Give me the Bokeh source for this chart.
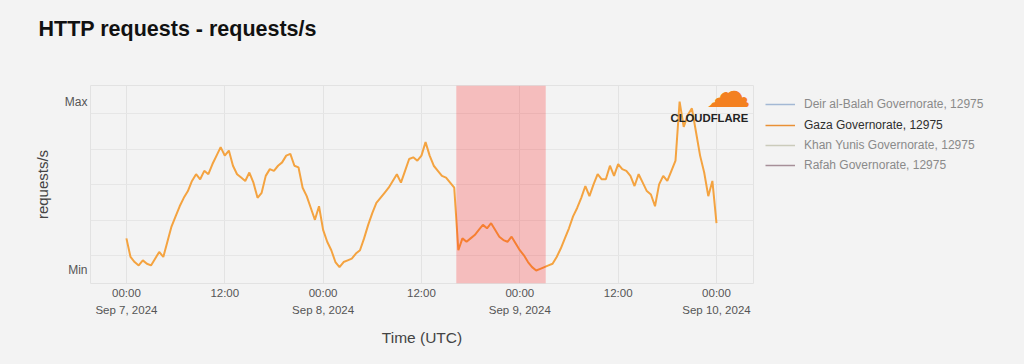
import pandas as pd
from bokeh.plotting import figure
from bokeh.layouts import row
from bokeh.models import Range1d, FixedTicker, BoxAnnotation, Legend, LegendItem, Label, Title
from bokeh.embed import file_html
from bokeh.resources import INLINE

# ---------------- data (normalised requests/s, Min = 0, Max = 1), 30-minute steps ----------------
series_start = "2024-09-07 00:00"
# Sep 7 00:00 - 23:30
gaza_day1 = [0.19, 0.08, 0.05, 0.03, 0.06, 0.04, 0.03, 0.07, 0.11, 0.08,
             0.17, 0.26, 0.32, 0.38, 0.43, 0.47, 0.53, 0.57, 0.54, 0.59,
             0.57, 0.63, 0.68, 0.73, 0.68, 0.71, 0.62, 0.57, 0.55, 0.53,
             0.58, 0.52, 0.43, 0.46, 0.56, 0.60, 0.59, 0.62, 0.64, 0.68,
             0.69, 0.62, 0.61, 0.49, 0.44, 0.37, 0.30, 0.38]
# Sep 8 00:00 - 23:30
gaza_day2 = [0.24, 0.17, 0.12, 0.05, 0.02, 0.05, 0.06, 0.07, 0.10, 0.12,
             0.19, 0.27, 0.34, 0.40, 0.43, 0.46, 0.49, 0.53, 0.57, 0.52,
             0.59, 0.66, 0.67, 0.65, 0.68, 0.76, 0.68, 0.62, 0.59, 0.56,
             0.55, 0.52, 0.49, 0.12, 0.19, 0.17, 0.19, 0.21, 0.24, 0.27,
             0.25, 0.28, 0.24, 0.20, 0.18, 0.17, 0.20, 0.16]
# Sep 9 00:00 - Sep 10 00:00
gaza_day3 = [0.12, 0.09, 0.05, 0.02, 0.00, 0.01, 0.02, 0.03, 0.04, 0.08,
             0.13, 0.19, 0.25, 0.32, 0.37, 0.43, 0.50, 0.44, 0.51, 0.57,
             0.54, 0.54, 0.62, 0.56, 0.63, 0.60, 0.59, 0.56, 0.50, 0.57,
             0.52, 0.47, 0.45, 0.38, 0.51, 0.56, 0.53, 0.59, 0.65, 1.00,
             0.85, 0.92, 0.96, 0.82, 0.68, 0.58, 0.44, 0.53, 0.28]
gaza_values = gaza_day1 + gaza_day2 + gaza_day3
gaza_times = pd.date_range(series_start, periods=len(gaza_values), freq="30min")

outage_start = "2024-09-08 16:15"
outage_end = "2024-09-09 03:10"

series_names = ["Deir al-Balah Governorate, 12975", "Gaza Governorate, 12975",
                "Khan Yunis Governorate, 12975", "Rafah Governorate, 12975"]
series_colors = ["#a3b8d4", "#e99035", "#cbcbbb", "#a68f98"]

x_tick_times = ["2024-09-07 00:00", "2024-09-07 12:00", "2024-09-08 00:00", "2024-09-08 12:00",
                "2024-09-09 00:00", "2024-09-09 12:00", "2024-09-10 00:00"]
x_tick_labels = ["00:00\nSep 7, 2024", "12:00", "00:00\nSep 8, 2024", "12:00",
                 "00:00\nSep 9, 2024", "12:00", "00:00\nSep 10, 2024"]
y_ticks = [0, 1]
y_tick_labels = ["Min", "Max"]
y_grid_values = [0.089, 0.296, 0.509, 0.716, 0.929]

# ---------------- styling ----------------
BG = "#f3f3f3"
FONT = "Liberation Sans"
LINE_COLOR = "#f4a340"
NAN = float("nan")

def ms(t):
    return pd.Timestamp(t).value // 10**6

p = figure(width=756, height=364, x_axis_type="datetime",
           x_range=Range1d(pd.Timestamp("2024-09-06 19:37"), pd.Timestamp("2024-09-10 04:31")),
           y_range=Range1d(-0.077, 1.095),
           output_backend="svg", toolbar_location=None,
           min_border_left=90, min_border_right=3, min_border_top=85, min_border_bottom=81,
           background_fill_color=BG, border_fill_color=BG,
           outline_line_color="#e2e2e2")

# spacer title (closest to frame) then the real title above it
p.add_layout(Title(text=" ", text_font_size="10px", standoff=27), "above")
p.add_layout(Title(text="HTTP requests - requests/s", text_font=FONT, text_font_size="21.5px",
                   text_font_style="bold", text_color="#111111", align="left", offset=-52,
                   standoff=10), "above")

# axes
tick_ms = [ms(t) for t in x_tick_times]
p.xaxis.ticker = FixedTicker(ticks=tick_ms)
p.xaxis.major_label_overrides = {t: lab for t, lab in zip(tick_ms, x_tick_labels)}
p.xaxis.axis_label = "Time (UTC)"
p.yaxis.ticker = FixedTicker(ticks=y_ticks)
p.yaxis.major_label_overrides = {t: lab for t, lab in zip(y_ticks, y_tick_labels)}
p.yaxis.axis_label = "requests/s"
for ax in (p.xaxis, p.yaxis):
    ax.axis_line_color = None
    ax.major_tick_line_color = None
    ax.minor_tick_line_color = None
    ax.major_tick_out = 0
    ax.major_tick_in = 0
    ax.minor_tick_out = 0
    ax.minor_tick_in = 0
    ax.major_label_text_font = FONT
    ax.major_label_text_color = "#555555"
    ax.axis_label_text_font = FONT
    ax.axis_label_text_font_style = "normal"
    ax.axis_label_text_color = "#444444"
p.xaxis.axis_label_text_font_size = "15.5px"
p.yaxis.axis_label_text_font_size = "15px"
p.xaxis.major_label_text_font_size = "11.5px"
p.xaxis.major_label_text_line_height = 1.45
p.yaxis.major_label_text_font_size = "12px"
p.xaxis.major_label_standoff = 3
p.yaxis.major_label_standoff = 3
p.xaxis.axis_label_standoff = 10
p.yaxis.axis_label_standoff = 11

p.xgrid.ticker = FixedTicker(ticks=tick_ms)
p.ygrid.ticker = FixedTicker(ticks=y_grid_values)
p.xgrid.grid_line_color = "#e3e3e3"
p.ygrid.grid_line_color = "#e6e6e6"

# data line
p.line(x=gaza_times, y=gaza_values, line_color=LINE_COLOR, line_width=2)

# outage shading
p.add_layout(BoxAnnotation(left=pd.Timestamp(outage_start), right=pd.Timestamp(outage_end),
                           fill_color="#ff0000", fill_alpha=0.22, line_color=None))

# logo
p.add_layout(Label(x=638, y=192, x_units="screen", y_units="screen", text="\u2601",
                   text_font="DejaVu Sans", text_font_size="45px", text_color="#f38020",
                   text_align="center", text_baseline="middle"))
p.add_layout(Label(x=580, y=166, x_units="screen", y_units="screen", text="CLOUDFLARE",
                   text_font=FONT, text_font_size="11.3px", text_font_style="bold",
                   text_color="#222222", text_align="left", text_baseline="alphabetic"))

# ---------------- legend panel (its frame is aligned with the chart frame: 198 px high) ----------------
lg = figure(width=268, height=364, x_range=Range1d(0, 1), y_range=Range1d(0, 1),
            output_backend="svg", toolbar_location=None, min_border=0,
            background_fill_color=BG, border_fill_color=BG, outline_line_color=None)
lg.axis.visible = False
lg.grid.visible = False
legend_renderers = [lg.line(x=[NAN], y=[NAN], line_color=c, line_width=1.5) for c in series_colors]

def make_legend(idx, y_bottom, color):
    return Legend(items=[LegendItem(label=series_names[i], renderers=[legend_renderers[i]]) for i in idx],
                  location=(9, y_bottom), margin=0, padding=0, spacing=0,
                  glyph_width=30, glyph_height=20, label_height=20, label_standoff=9,
                  label_text_font=FONT, label_text_font_size="12px", label_text_color=color,
                  border_line_alpha=0, background_fill_alpha=0)

lg.add_layout(make_legend([0], 169, "#8a8a8a"))
lg.add_layout(make_legend([1], 148.5, "#2e2e2e"))
lg.add_layout(make_legend([2, 3], 108, "#8a8a8a"))

layout = row(p, lg, styles={"background-color": BG})

html = file_html(layout, INLINE)
html = html.replace("<body>", '<body style="background-color:#f3f3f3;">', 1)
open("out.html", "w").write(html)
